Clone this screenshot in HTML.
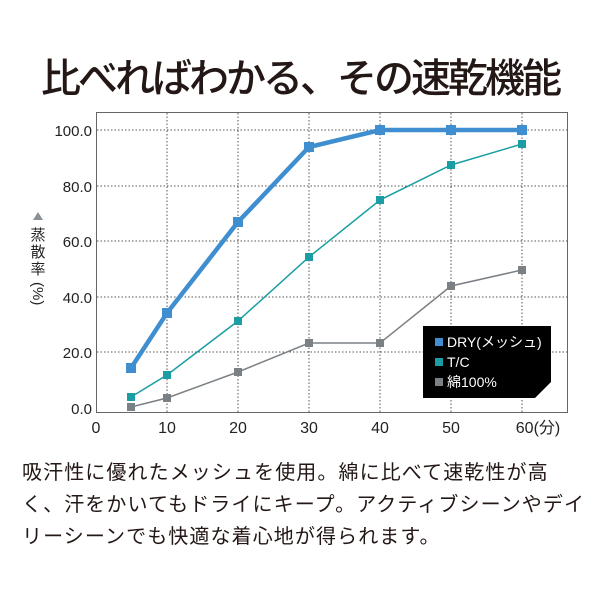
<!DOCTYPE html>
<html><head><meta charset="utf-8"><style>
body{margin:0;width:600px;height:600px;background:#fff;overflow:hidden;position:relative;font-family:"Liberation Sans","Noto Sans CJK JP",sans-serif;}
.t{position:absolute;left:0;width:600px;top:47px;text-align:center;font-size:40px;font-weight:500;color:#231815;letter-spacing:-3px;line-height:56px;white-space:nowrap;font-family:"Noto Sans CJK JP",sans-serif;}
.b{position:absolute;left:22px;top:455px;width:590px;font-size:20px;letter-spacing:1.1px;line-height:32px;color:#231815;white-space:nowrap;font-family:"Noto Sans CJK JP",sans-serif;}
</style></head><body>
<div class="t">比べればわかる、その速乾機能</div>
<svg width="600" height="600" style="position:absolute;left:0;top:0" font-family="Liberation Sans, Noto Sans CJK JP, sans-serif">
<g stroke="#555" stroke-width="1" stroke-dasharray="1.5,2">
<line x1="167" y1="113" x2="167" y2="412"/><line x1="238" y1="113" x2="238" y2="412"/><line x1="309" y1="113" x2="309" y2="412"/><line x1="380" y1="113" x2="380" y2="412"/><line x1="451" y1="113" x2="451" y2="412"/><line x1="522" y1="113" x2="522" y2="412"/>
<line x1="97" y1="130" x2="567" y2="130"/><line x1="97" y1="186" x2="567" y2="186"/><line x1="97" y1="241" x2="567" y2="241"/><line x1="97" y1="297" x2="567" y2="297"/><line x1="97" y1="352" x2="567" y2="352"/>
</g>
<rect x="96.5" y="112.5" width="471" height="300" fill="none" stroke="#666" stroke-width="1"/>
<g font-size="15" fill="#222" text-anchor="end">
<text x="92" y="136">100.0</text><text x="92" y="192">80.0</text><text x="92" y="247">60.0</text><text x="92" y="303">40.0</text><text x="92" y="358">20.0</text><text x="92" y="414">0.0</text>
</g>
<g font-size="16" fill="#222" text-anchor="middle">
<text x="96" y="433">0</text><text x="167" y="433">10</text><text x="238" y="433">20</text><text x="309" y="433">30</text><text x="380" y="433">40</text><text x="451" y="433">50</text><text x="538" y="433">60(分)</text>
</g>
<polygon points="38,212 33,220 43,220" fill="#8a9096"/>
<g font-size="15" fill="#222" text-anchor="middle"><text x="38" y="240">蒸</text><text x="38" y="257">散</text><text x="38" y="274">率</text></g>
<text x="38" y="282" font-size="15" fill="#222" transform="rotate(90 38 282)" dy="5">(%)</text>
<polyline points="131,397 167,375 238,321 309,257 380,200 451,165 522,144" fill="none" stroke="#1a9ea3" stroke-width="1.5" />
<polyline points="131,407 167,398 238,372 309,343 380,343 451,286 522,270" fill="none" stroke="#7b8085" stroke-width="1.5"/>
<polyline points="131,368 167,313 238,222 309,147 380,130 451,130 522,130" fill="none" stroke="#3f8fd0" stroke-width="4.5"/>
<g fill="#3f8fd0"><rect x="126" y="363" width="10" height="10"/><rect x="162" y="308" width="10" height="10"/><rect x="233" y="217" width="10" height="10"/><rect x="304" y="142" width="10" height="10"/><rect x="375" y="125" width="10" height="10"/><rect x="446" y="125" width="10" height="10"/><rect x="517" y="125" width="10" height="10"/></g>
<g fill="#1a9ea3"><rect x="127" y="393" width="8" height="8"/><rect x="163" y="371" width="8" height="8"/><rect x="234" y="317" width="8" height="8"/><rect x="305" y="253" width="8" height="8"/><rect x="376" y="196" width="8" height="8"/><rect x="447" y="161" width="8" height="8"/><rect x="518" y="140" width="8" height="8"/></g>
<g fill="#7b8085"><rect x="127" y="403" width="8" height="8"/><rect x="163" y="394" width="8" height="8"/><rect x="234" y="368" width="8" height="8"/><rect x="305" y="339" width="8" height="8"/><rect x="376" y="339" width="8" height="8"/><rect x="447" y="282" width="8" height="8"/><rect x="518" y="266" width="8" height="8"/></g>
<polygon points="423,326 551,326 551,382 535,398 423,398" fill="#000"/>
<rect x="435" y="338" width="8" height="8" fill="#3f8fd0"/><rect x="435" y="358" width="8" height="8" fill="#1a9ea3"/><rect x="435" y="378" width="8" height="8" fill="#7b8085"/>
<g font-size="14" fill="#fff"><text x="447" y="347">DRY(メッシュ)</text><text x="447" y="367">T/C</text><text x="447" y="387">綿100%</text></g>
</svg>
<div class="b">吸汗性に優れたメッシュを使用。綿に比べて速乾性が高<br>く、汗をかいてもドライにキープ。アクティブシーンやデイ<br>リーシーンでも快適な着心地が得られます。</div>
</body></html>
